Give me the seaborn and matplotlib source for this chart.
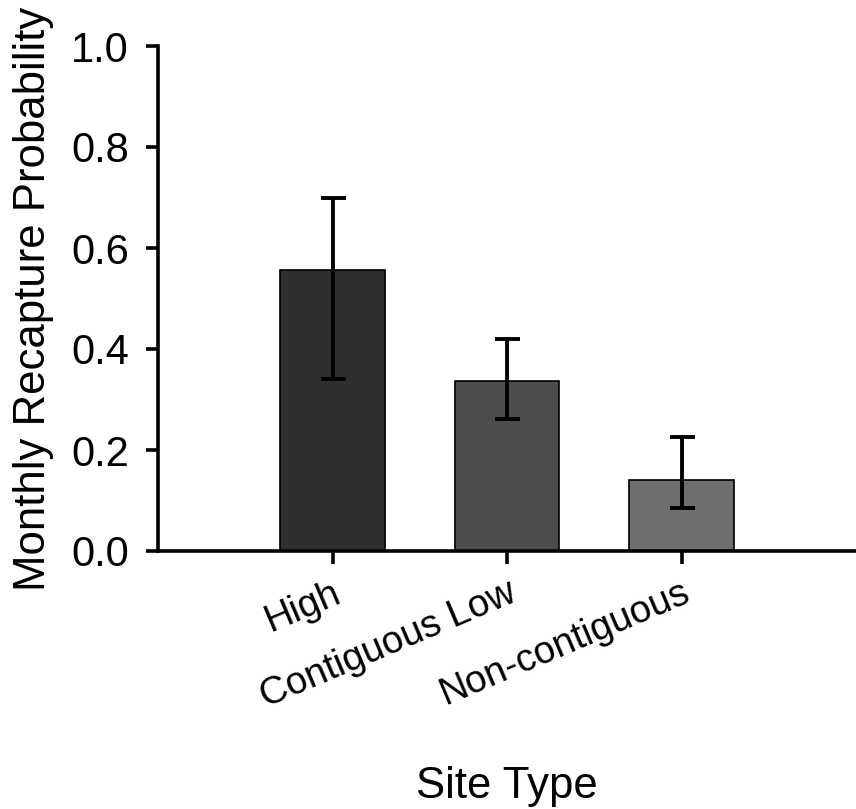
import matplotlib
matplotlib.use("Agg")
import matplotlib.pyplot as plt
import seaborn as sns
import pandas as pd
import numpy as np

site_types = ["High", "Contiguous Low", "Non-contiguous"]
recapture = [0.556, 0.337, 0.141]
err_upper = [0.700, 0.419, 0.226]
err_lower = [0.341, 0.262, 0.085]
bar_colors = ["#2f2f2f", "#4d4d4d", "#6e6e6e"]

sns.set_theme(style="ticks")
plt.rcParams["font.family"] = ["Liberation Sans", "DejaVu Sans"]
plt.rcParams["text.color"] = "black"
plt.rcParams["axes.labelcolor"] = "black"

df = pd.DataFrame({"Site Type": site_types, "Recapture": recapture})

fig = plt.figure(figsize=(8.56, 8.09), dpi=100)
ax = fig.add_axes([158/856, (809-551)/809, (856-158)/856, (551-46)/809])

sns.barplot(data=df, x="Site Type", y="Recapture", hue="Site Type",
            palette=bar_colors, width=0.6, edgecolor="black", linewidth=1.2,
            errorbar=None, legend=False, ax=ax, saturation=1)

vals = np.array(recapture)
yerr = np.array([vals - np.array(err_lower), np.array(err_upper) - vals])
ax.errorbar(np.arange(len(site_types)), vals, yerr=yerr, fmt="none",
            ecolor="black", elinewidth=2.8, capsize=9, capthick=2.8, zorder=5)

ax.set_ylim(0, 1.0)
ax.set_xlim(-1.0, 3.0)
ax.set_yticks([0.0, 0.2, 0.4, 0.6, 0.8, 1.0])
ax.set_yticklabels(["0.0", "0.2", "0.4", "0.6", "0.8", "1.0"])
for s in ["top", "right"]:
    ax.spines[s].set_visible(False)
for s in ["left", "bottom"]:
    ax.spines[s].set_linewidth(2.6)
    ax.spines[s].set_color("black")
ax.tick_params(axis="both", direction="out", length=9, width=2.6,
               colors="black", labelcolor="black")
ax.tick_params(axis="y", labelsize=30, pad=12)
ax.tick_params(axis="x", labelsize=27.5, pad=8)
plt.setp(ax.get_xticklabels(), rotation=23, ha="right", rotation_mode="anchor")

ax.set_xlabel("Site Type", fontsize=31.5, labelpad=37)
ax.set_ylabel("Monthly Recapture Probability", fontsize=31.5, labelpad=12)

fig.savefig("out.png", dpi=100, facecolor="white")
